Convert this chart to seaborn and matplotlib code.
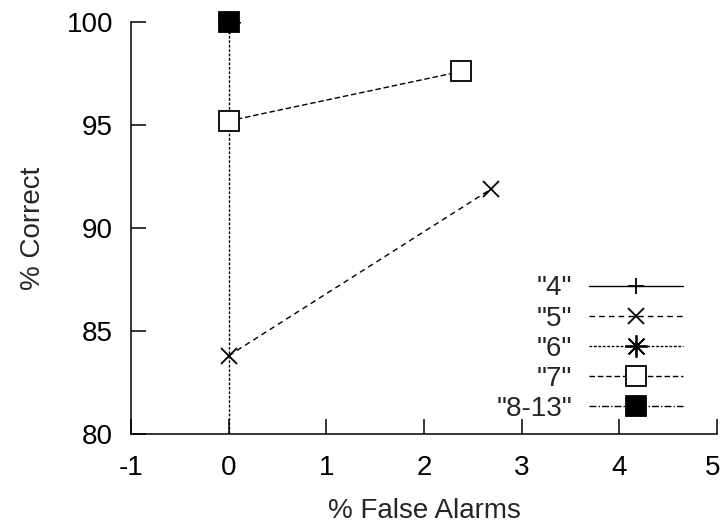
import matplotlib
matplotlib.use("Agg")
import matplotlib.pyplot as plt
import matplotlib.transforms as mtransforms
import seaborn as sns

# Detection results per character-count group: % false alarms vs % correct
groups = ['"4"', '"5"', '"6"', '"7"', '"8-13"']
fa_4 = [0.0]
pc_4 = [100.0]
fa_5 = [0.0, 2.69]
pc_5 = [83.8, 91.9]
fa_6 = [0.0, 0.0]
pc_6 = [100.0, 75.0]
fa_7 = [0.0, 2.38]
pc_7 = [95.2, 97.6]
fa_8 = [0.0]
pc_8 = [100.0]

x_ticks = [-1, 0, 1, 2, 3, 4, 5]
y_ticks = [80, 85, 90, 95, 100]

sns.set_style("ticks")
plt.rcParams["font.family"] = ["Liberation Sans", "DejaVu Sans"]
plt.rcParams["lines.scale_dashes"] = False
plt.rcParams["axes.unicode_minus"] = False

fig = plt.figure(figsize=(7.22, 5.25), dpi=100)
ax = fig.add_axes([131 / 722, 91 / 525, 586 / 722, 412 / 525])

styles = [
    dict(x=fa_4, y=pc_4, marker="+", ms=12, dashes=None, z=3, clip=False),
    dict(x=fa_5, y=pc_5, marker="x", ms=12, dashes=(4, 3), z=3, clip=False),
    dict(x=fa_6, y=pc_6, marker=(8, 2, 0), ms=16, dashes=(2, 1.2), z=2, clip=True),
    dict(x=fa_7, y=pc_7, marker="s", ms=14, dashes=(4, 2), z=4, clip=False),
    dict(x=fa_8, y=pc_8, marker="s", ms=14, dashes=(5, 1.5, 1, 1.5), z=5, clip=False),
]

for name, st in zip(groups, styles):
    filled = name == '"8-13"'
    sns.lineplot(
        x=st["x"], y=st["y"], ax=ax, estimator=None, sort=False,
        color="black", lw=1.0, label=name,
        marker=st["marker"], markersize=st["ms"],
        markerfacecolor="black" if filled else "white",
        markeredgecolor="black", markeredgewidth=1.3,
        zorder=st["z"],
    )
    line = ax.get_lines()[-1]
    line.set_clip_on(st["clip"])
    if st["dashes"] is not None:
        line.set_dashes(st["dashes"])
    else:
        line.set_linestyle("-")

ax.set_xlim(-1, 5)
ax.set_ylim(80, 100)
ax.set_xticks(x_ticks)
ax.set_yticks(y_ticks)
ax.tick_params(direction="in", length=10.5, width=1.1, labelsize=20,
               colors="black")
ax.tick_params(axis="x", pad=15)
ax.tick_params(axis="y", pad=13)
for side in ("top", "right"):
    ax.spines[side].set_visible(False)
for side in ("left", "bottom"):
    ax.spines[side].set_linewidth(1.1)
    ax.spines[side].set_color("black")

# keep the last x tick label inside the canvas
last = ax.get_xticklabels()[-1]
last.set_transform(last.get_transform()
                   + mtransforms.ScaledTranslation(-4 / 100, 0, fig.dpi_scale_trans))

ax.set_xlabel("% False Alarms", fontsize=20, labelpad=12)
ax.set_ylabel("% Correct", fontsize=20, labelpad=15)

leg = ax.legend(
    loc="lower right", bbox_to_anchor=(683 / 722, (525 - 422) / 525),
    bbox_transform=fig.transFigure, frameon=False, markerfirst=False,
    fontsize=20, handlelength=3.4, handletextpad=0.6, labelspacing=0.15,
    borderpad=0, borderaxespad=0, numpoints=1,
)

fig.savefig("out.png", dpi=100)
